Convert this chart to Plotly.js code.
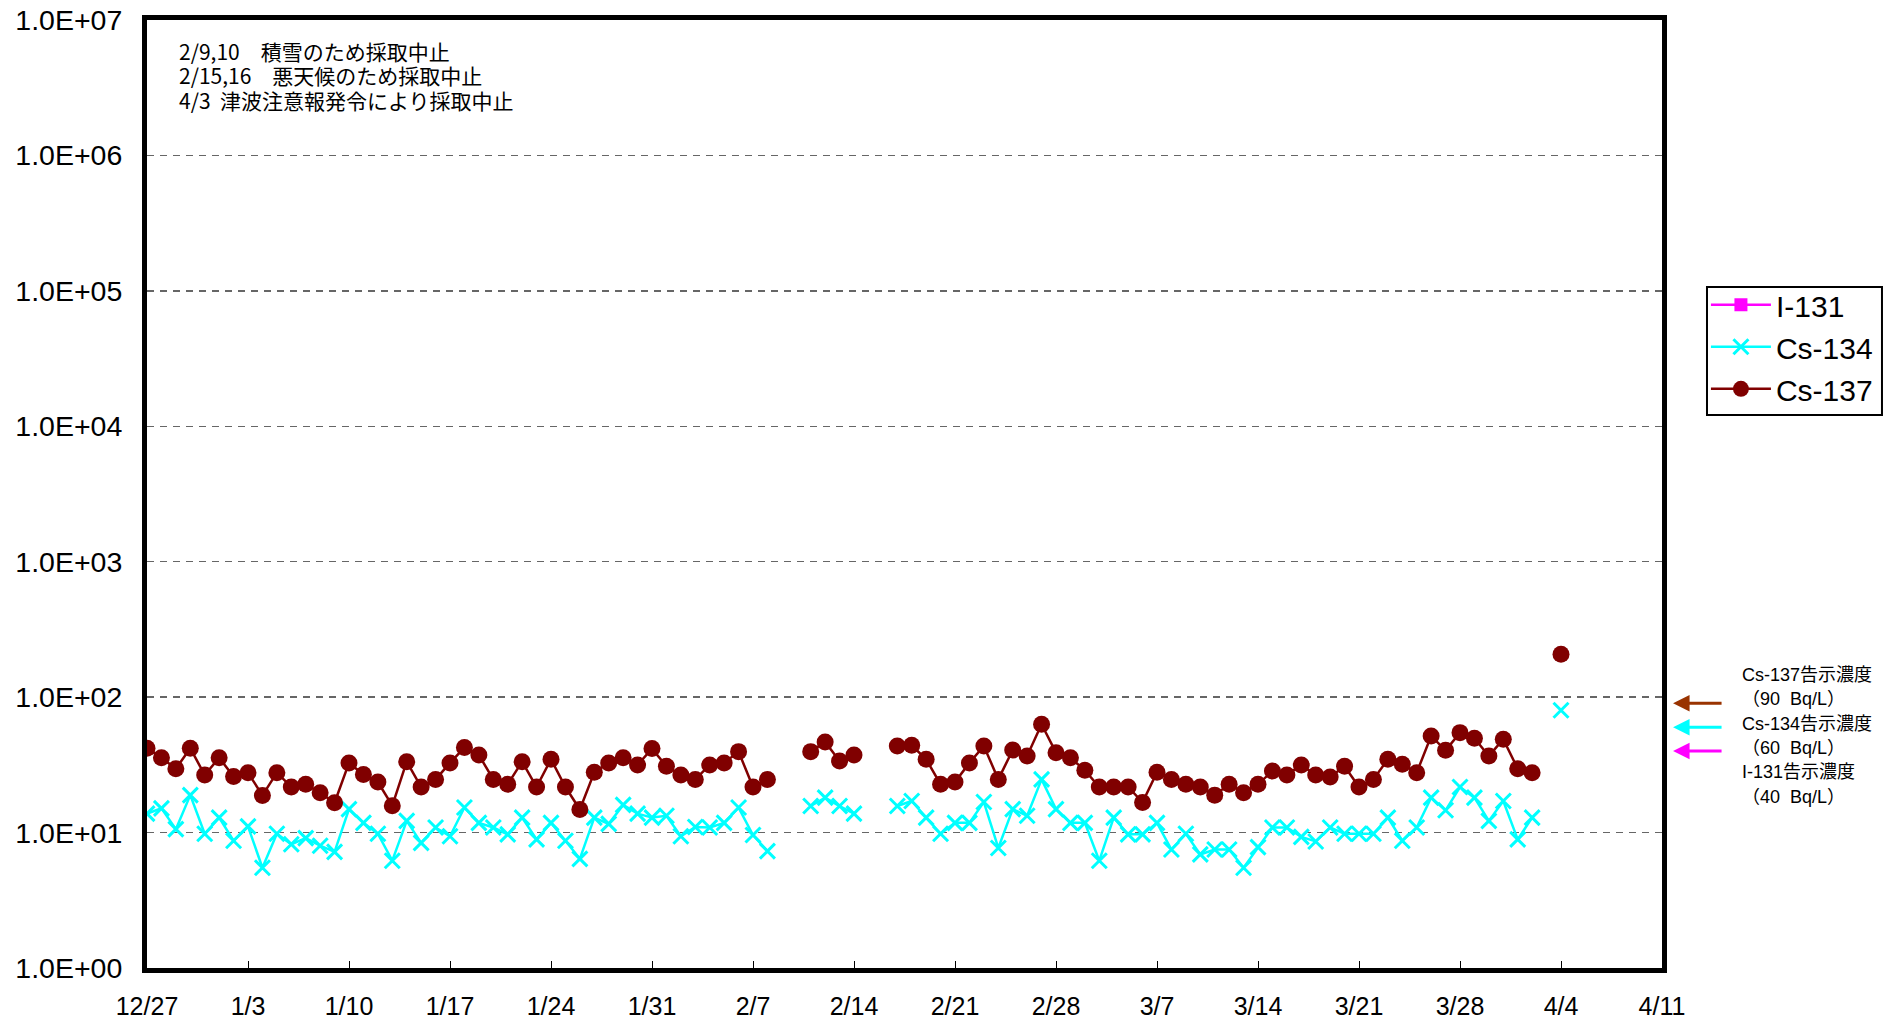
<!DOCTYPE html>
<html>
<head>
<meta charset="utf-8">
<script src="https://cdn.plot.ly/plotly-3.0.1.min.js"></script>
<style>
html,body{margin:0;padding:0;background:#fff;}
#chart{width:1897px;height:1024px;}
</style>
</head>
<body>
<div id="chart"></div>
<script>
// Sampling dates (12/26 lies just left of the axis start and is clipped)
const dates = [
"2013-12-26","2013-12-27","2013-12-28","2013-12-29","2013-12-30","2013-12-31",
"2014-01-01","2014-01-02","2014-01-03","2014-01-04","2014-01-05","2014-01-06","2014-01-07","2014-01-08","2014-01-09","2014-01-10",
"2014-01-11","2014-01-12","2014-01-13","2014-01-14","2014-01-15","2014-01-16","2014-01-17","2014-01-18","2014-01-19","2014-01-20",
"2014-01-21","2014-01-22","2014-01-23","2014-01-24","2014-01-25","2014-01-26","2014-01-27","2014-01-28","2014-01-29","2014-01-30","2014-01-31",
"2014-02-01","2014-02-02","2014-02-03","2014-02-04","2014-02-05","2014-02-06","2014-02-07","2014-02-08","2014-02-09","2014-02-10",
"2014-02-11","2014-02-12","2014-02-13","2014-02-14","2014-02-15","2014-02-16","2014-02-17","2014-02-18","2014-02-19","2014-02-20",
"2014-02-21","2014-02-22","2014-02-23","2014-02-24","2014-02-25","2014-02-26","2014-02-27","2014-02-28",
"2014-03-01","2014-03-02","2014-03-03","2014-03-04","2014-03-05","2014-03-06","2014-03-07","2014-03-08","2014-03-09","2014-03-10",
"2014-03-11","2014-03-12","2014-03-13","2014-03-14","2014-03-15","2014-03-16","2014-03-17","2014-03-18","2014-03-19","2014-03-20",
"2014-03-21","2014-03-22","2014-03-23","2014-03-24","2014-03-25","2014-03-26","2014-03-27","2014-03-28","2014-03-29","2014-03-30","2014-03-31",
"2014-04-01","2014-04-02","2014-04-03","2014-04-04"
];

// Cs-137 (Bq/L)
const cs137 = [
41, 42,35.7,29.6,42,26.6,
35.7,25.9,27.7,18.8,27.7,21.7,22.7,19.7,16.6,32.7,
26.8,23.6,15.8,33.4,21.7,24.7,32.7,42.4,37.4,24.7,
22.7,33.4,21.7,34.8,21.7,14.8,27.9,32.7,35.7,31.6,41.7,
30.9,26.6,24.7,31.6,32.7,39.6,21.7,24.7,null,null,
39.6,46.7,33.8,37.4,null,null,43.6,44.1,34.8,22.7,
23.6,32.7,43.6,24.7,40.7,36.8,63.1,38.9,
35.7,28.8,21.7,21.7,21.7,16.7,27.9,24.7,22.7,21.7,
18.9,22.7,19.7,22.7,28.5,26.6,31.6,26.6,25.7,30.9,
21.7,24.7,34.8,31.9,27.7,51.7,40.5,54.7,49.7,36.8,48.9,
29.6,27.7,null,207
];

// Cs-134 (Bq/L)
const cs134 = [
17, 13.8,15.1,10.6,18.9,9.8,
12.9,8.7,11.1,5.5,9.8,8.2,9.1,8.0,7.2,14.9,
11.8,9.8,6.2,12.2,8.4,10.9,9.4,15.3,11.8,10.9,
9.7,12.9,8.9,11.8,8.7,6.4,12.9,11.6,16.0,13.8,12.9,
13.3,9.4,11.0,10.9,11.8,15.3,9.6,7.3,null,null,
15.7,18.1,15.7,13.8,null,null,15.7,17.1,12.9,9.8,
11.8,11.8,16.8,7.7,14.9,13.3,24.7,14.9,
11.8,11.8,6.2,12.9,9.7,9.7,11.8,7.5,9.8,6.9,
7.5,7.5,5.5,7.8,10.9,10.9,9.3,8.6,10.9,9.8,
9.8,9.8,12.9,8.7,10.9,18.1,14.6,21.7,18.1,12.2,17.1,
8.9,12.9,null,80
];

// I-131: no detected values (legend entry only)
const i131Dates = [null];
const i131 = [null];

// Notification limits (Bq/L)
const limitNames = ["Cs-137告示濃度","Cs-134告示濃度","I-131告示濃度"];
const limitValues = [90, 60, 40];
const limitColors = ["#993300","#00FFFF","#FF00FF"];

// Axis ticks
const xTickVals = ["2013-12-27","2014-01-03","2014-01-10","2014-01-17","2014-01-24","2014-01-31","2014-02-07","2014-02-14",
  "2014-02-21","2014-02-28","2014-03-07","2014-03-14","2014-03-21","2014-03-28","2014-04-04","2014-04-11"];
const xTickText = ["12/27","1/3","1/10","1/17","1/24","1/31","2/7","2/14","2/21","2/28","3/7","3/14","3/21","3/28","4/4","4/11"];
const yTickVals = [1,10,100,1000,10000,100000,1000000,10000000];
const yTickText = ["1.0E+00","1.0E+01","1.0E+02","1.0E+03","1.0E+04","1.0E+05","1.0E+06","1.0E+07"];

const notes = ["2/9,10　積雪のため採取中止","2/15,16　悪天候のため採取中止","4/3\u00a0\u00a0津波注意報発令により採取中止"];

const traces = [
  {x:i131Dates, y:i131, name:"I-131", type:"scatter", mode:"lines+markers", legendgroup:"a",
   line:{color:"#FF00FF", width:2.5}, marker:{symbol:"square", size:13, color:"#FF00FF"}},
  {x:dates, y:cs134, name:"Cs-134", type:"scatter", mode:"lines+markers", legendgroup:"b",
   line:{color:"#00FFFF", width:2.5}, marker:{symbol:"x-thin", size:15, color:"#00FFFF", line:{color:"#00FFFF", width:3}}},
  {x:dates, y:cs137, name:"Cs-137", type:"scatter", mode:"lines+markers", legendgroup:"c",
   line:{color:"#800000", width:2.5}, marker:{symbol:"circle", size:17, color:"#800000"}}
];

const annotations = [];
notes.forEach((t,i)=>{
  annotations.push({xref:"paper", yref:"paper", x:0.0195, y:(968-50.5-i*24.7)/948, xanchor:"left", yanchor:"middle",
    text:t, showarrow:false, font:{family:"Noto Sans CJK JP", size:21, color:"#000"}});
});
limitValues.forEach((v,i)=>{
  annotations.push({xref:"paper", yref:"y", x:1.0073, y:Math.log10(v), text:"", showarrow:true,
    ax:50, ay:0, axref:"pixel", ayref:"pixel", arrowhead:2, arrowsize:1.1, arrowwidth:3,
    arrowcolor:limitColors[i], standoff:0, startstandoff:0});
});
const limitLines = [];
limitNames.forEach((n,i)=>{ limitLines.push(n); limitLines.push("（" + limitValues[i] + "\u00a0\u00a0Bq/L）"); });
limitLines.forEach((t,i)=>{
  annotations.push({xref:"paper", yref:"paper", x:1.0515, y:(968-675-i*24.3)/948, xanchor:"left", yanchor:"middle",
    text:t, showarrow:false, font:{family:"Liberation Sans, Noto Sans CJK JP", size:18, color:"#000"}});
});

const layout = {
  width:1897, height:1024,
  margin:{l:147, r:235, t:20, b:56, autoexpand:false},
  paper_bgcolor:"#fff", plot_bgcolor:"#fff",
  font:{family:"Liberation Sans, Arial, sans-serif", color:"#000"},
  showlegend:true,
  legend:{x:1.029, y:0.727, xanchor:"left", yanchor:"top", bgcolor:"rgba(0,0,0,0)", borderwidth:0,
    font:{size:30, family:"Liberation Sans, Arial, sans-serif"}, tracegroupgap:5, traceorder:"normal", itemwidth:60},
  shapes:[{type:"rect", xref:"paper", yref:"paper", x0:1.0297, x1:1.1452, y0:0.5833, y1:0.7184,
    line:{color:"#000", width:2}, fillcolor:"#fff", layer:"above"}],
  xaxis:{type:"date", range:["2013-12-27","2014-04-11"], tickvals:xTickVals, ticktext:xTickText,
    showgrid:false, zeroline:false, showline:true, mirror:true, linewidth:5, linecolor:"#000",
    ticks:"inside", ticklen:7, tickwidth:1, tickcolor:"#000", ticklabelstandoff:12,
    tickfont:{size:25, family:"Liberation Sans, Arial, sans-serif"}},
  yaxis:{type:"log", range:[0,7], tickvals:yTickVals, ticktext:yTickText,
    showgrid:true, gridcolor:"#666", gridwidth:1.3, griddash:"7px,6px", zeroline:false,
    showline:true, mirror:true, linewidth:5, linecolor:"#000", ticks:"", ticklabelstandoff:14,
    tickfont:{size:28.5, family:"Liberation Sans, Arial, sans-serif"}},
  annotations:annotations
};

Plotly.newPlot("chart", traces, layout, {staticPlot:true, displayModeBar:false});
</script>
</body>
</html>
